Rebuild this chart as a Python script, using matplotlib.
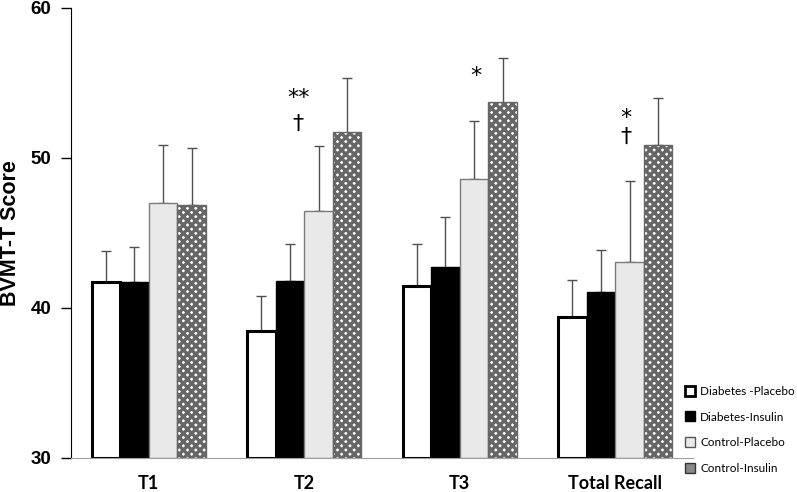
import matplotlib
matplotlib.use("Agg")
import matplotlib.pyplot as plt
import numpy as np
from matplotlib.lines import Line2D

categories = ["T1", "T2", "T3", "Total Recall"]
series = ["Diabetes -Placebo", "Diabetes-Insulin", "Control-Placebo", "Control-Insulin"]
means = {
    "Diabetes -Placebo": [41.7, 38.5, 41.5, 39.4],
    "Diabetes-Insulin": [41.75, 41.8, 42.7, 41.1],
    "Control-Placebo": [47.0, 46.5, 48.6, 43.1],
    "Control-Insulin": [46.9, 51.7, 53.7, 50.9],
}
upper_err = {
    "Diabetes -Placebo": [2.1, 2.3, 2.8, 2.5],
    "Diabetes-Insulin": [2.3, 2.5, 3.4, 2.8],
    "Control-Placebo": [3.9, 4.3, 3.9, 5.4],
    "Control-Insulin": [3.8, 3.6, 3.0, 3.1],
}
# significance annotations: (text, x position in category units, y value)
annotations = [
    ("**", 0.966, 54.0),
    ("\u2020", 0.96, 52.3),
    ("*", 2.104, 55.5),
    ("*", 3.069, 52.7),
    ("\u2020", 3.069, 51.4),
]

styles = {
    "Diabetes -Placebo": dict(facecolor="white", edgecolor="black", linewidth=2.2, hatch=None),
    "Diabetes-Insulin": dict(facecolor="black", edgecolor="black", linewidth=1, hatch=None),
    "Control-Placebo": dict(facecolor="#e9e9e9", edgecolor="#7a7a7a", linewidth=1, hatch=None),
    "Control-Insulin": dict(facecolor="white", edgecolor="#666666", linewidth=1, hatch="xxxx"),
}

plt.rcParams["hatch.linewidth"] = 2.4
plt.rcParams["hatch.color"] = "black"

fig = plt.figure(figsize=(7.97, 4.92), dpi=100)
ax = fig.add_axes([71/797, 34/492, 622/797, 450/492])

x = np.arange(len(categories))
w = 0.1833
for i, s in enumerate(series):
    st = styles[s]
    pos = x + (i - 1.5) * w
    vals = means[s]
    ax.bar(pos, [v - 30 for v in vals], bottom=30, width=w, facecolor=st["facecolor"],
           edgecolor=st["edgecolor"], linewidth=st["linewidth"], hatch=st["hatch"], zorder=2)
    ax.errorbar(pos, vals, yerr=[np.zeros(len(vals)), upper_err[s]], fmt="none",
                ecolor="#505050", elinewidth=1, capsize=3.5, capthick=1, zorder=1)

for txt, xx, yy in annotations:
    ax.text(xx, yy, txt, ha="center", va="center", fontsize=16, family="DejaVu Sans", color="black")

ax.set_xlim(-0.5, 3.5)
ax.set_ylim(30, 60)
ax.set_yticks([30, 40, 50, 60])
ax.set_xticks(x)
ax.set_xticklabels(categories, fontsize=13, fontweight="bold", family="Lato")
for lab in ax.get_yticklabels():
    lab.set_fontweight("bold")
    lab.set_fontsize(13.5)
    lab.set_family("Liberation Sans")
ax.tick_params(axis="x", length=0, pad=12)
ax.tick_params(axis="y", length=7, width=1, pad=7, direction="out")
ax.spines["top"].set_visible(False)
ax.spines["right"].set_visible(False)
ax.spines["bottom"].set_color("#a0a0a0")
ax.spines["left"].set_color("black")
ax.set_ylabel("BVMT-T Score", fontsize=15.5, fontweight="bold", family="Liberation Sans", labelpad=7)

handles = [
    Line2D([], [], marker="s", linestyle="none", markersize=7, markerfacecolor="white", markeredgecolor="black", markeredgewidth=2),
    Line2D([], [], marker="s", linestyle="none", markersize=7, markerfacecolor="black", markeredgecolor="black"),
    Line2D([], [], marker="s", linestyle="none", markersize=7, markerfacecolor="#e9e9e9", markeredgecolor="#555555", markeredgewidth=1),
    Line2D([], [], marker="s", linestyle="none", markersize=7, markerfacecolor="#888888", markeredgecolor="#333333", markeredgewidth=1),
]
fig.legend(handles, series, loc="center left", bbox_to_anchor=(679/797, 1 - 430/492),
           frameon=False, prop={"family": "Lato", "size": 8.5}, handlelength=1.0,
           handletextpad=0.4, labelspacing=1.25, borderaxespad=0)

fig.savefig("out.png", dpi=100)
